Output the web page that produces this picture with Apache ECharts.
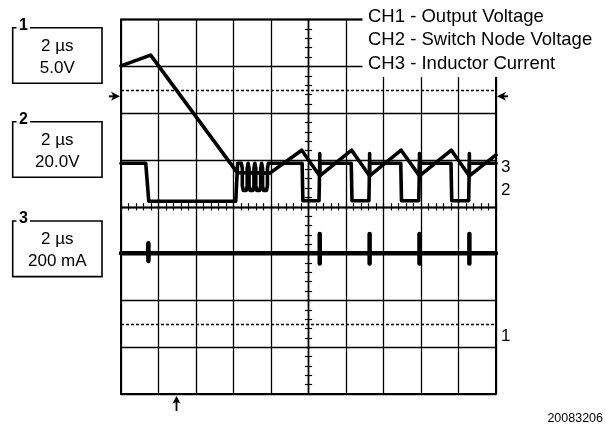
<!DOCTYPE html>
<html>
<head>
<meta charset="utf-8">
<script src="https://cdn.jsdelivr.net/npm/echarts@6/dist/echarts.min.js"></script>
<style>
html,body{margin:0;padding:0;background:#fff;}
#c{width:606px;height:435px;}
</style>
</head>
<body>
<div id="c"></div>
<script>
// ---- data (divisions: x 0..10, y 0..8) ----
const legendLabels = ['CH1 - Output Voltage', 'CH2 - Switch Node Voltage', 'CH3 - Inductor Current'];
const boxChannel = ['1', '2', '3'];
const boxTime = ['2 \u00b5s', '2 \u00b5s', '2 \u00b5s'];
const boxScale = ['5.0V', '20.0V', '200 mA'];
const refMarkLabels = ['3', '2', '1'];
const refMarkLevels = [4.84, 4.36, 1.24];
const dashedLevels = [6.5, 1.5];
const triggerLevel = 6.36;
const triggerTime = 1.48;
const figureId = '20083206';

// CH1 output voltage (flat with switching spikes)
const ch1Out = [
  [0, 3.01], [0.72, 3.01], [0.73, 3.22], [0.73, 2.84], [0.74, 3.01],
  [5.30, 3.01], [5.30, 3.42], [5.30, 2.79], [5.30, 3.01],
  [6.63, 3.01], [6.63, 3.42], [6.63, 2.79], [6.63, 3.01],
  [7.96, 3.01], [7.96, 3.42], [7.96, 2.79], [7.96, 3.01],
  [9.29, 3.01], [9.29, 3.42], [9.29, 2.79], [9.29, 3.01],
  [10, 3.01]
];

// CH2 switch node voltage (with ringing after 3.1 div)
const ch2Sw = [
  [0, 4.93], [0.66, 4.93], [0.74, 4.12], [3.06, 4.12], [3.11, 4.93],
  [3.21, 4.93], [3.235, 4.82], [3.235, 4.45], [3.26, 4.35], [3.30, 4.33], [3.34, 4.35], [3.365, 4.45], [3.365, 4.82],
  [3.39, 4.93], [3.415, 4.82], [3.415, 4.45], [3.44, 4.35], [3.48, 4.33], [3.52, 4.35], [3.545, 4.45], [3.545, 4.82],
  [3.57, 4.93], [3.595, 4.82], [3.595, 4.45], [3.62, 4.35], [3.66, 4.33], [3.70, 4.35], [3.725, 4.45], [3.725, 4.82],
  [3.75, 4.93], [3.775, 4.82], [3.775, 4.45], [3.80, 4.35], [3.84, 4.33], [3.88, 4.35], [3.905, 4.45], [3.905, 4.82],
  [3.93, 4.93],
  [4.83, 4.93], [4.85, 4.13], [5.28, 4.13], [5.30, 4.93],
  [6.14, 4.93], [6.16, 4.13], [6.61, 4.13], [6.63, 4.93],
  [7.46, 4.93], [7.48, 4.13], [7.94, 4.13], [7.96, 4.93],
  [8.80, 4.93], [8.82, 4.13], [9.27, 4.13], [9.29, 4.93],
  [10, 4.93]
];

// CH3 inductor current
const ch3Il = [
  [0, 7.01], [0.79, 7.24], [3.10, 4.73], [3.97, 4.72],
  [4.82, 5.21], [5.30, 4.66], [5.30, 5.14], [5.30, 4.66],
  [6.15, 5.21], [6.63, 4.66], [6.63, 5.14], [6.63, 4.66],
  [7.47, 5.21], [7.96, 4.66], [7.96, 5.14], [7.96, 4.66],
  [8.81, 5.21], [9.29, 4.66], [9.29, 5.14], [9.29, 4.66],
  [10, 5.11]
];

// ---- chart ----
const FONT = '"Liberation Sans", Arial, Helvetica, sans-serif';
const chart = echarts.init(document.getElementById('c'), null, {renderer: 'canvas'});

const baseAxisX = {type: 'value', min: 0, max: 10, interval: 1, gridIndex: 0};
const baseAxisY = {type: 'value', min: 0, max: 8, interval: 1, gridIndex: 0};
const hidden = {axisLabel: {show: false}, axisTick: {show: false}, axisLine: {show: false}, splitLine: {show: false}};

function centerAxis(base, pos, offset, inside) {
  return Object.assign({}, base, {
    position: pos, offset: offset,
    axisLine: {show: true, onZero: false, lineStyle: {color: '#000', width: 1.3}},
    axisTick: {show: true, inside: inside, length: 3.6, lineStyle: {color: '#000', width: 1.2}},
    minorTick: {show: true, splitNumber: 5, length: 3.6, lineStyle: {color: '#000', width: 1.2}},
    axisLabel: {show: false},
    splitLine: {show: false}
  });
}

const option = {
  animation: false,
  backgroundColor: '#fff',
  grid: {left: 121, right: 110, top: 19.6, bottom: 41, show: true, borderColor: '#000', borderWidth: 2, backgroundColor: 'transparent'},
  xAxis: [
    Object.assign({}, baseAxisX, hidden, {splitLine: {show: true, lineStyle: {color: '#000', width: 1.3}}}),
    centerAxis(baseAxisX, 'bottom', -187.2, false),
    centerAxis(baseAxisX, 'bottom', -187.2, true)
  ],
  yAxis: [
    Object.assign({}, baseAxisY, hidden, {splitLine: {show: true, lineStyle: {color: '#000', width: 1.3}}}),
    centerAxis(baseAxisY, 'left', -187.5, false),
    centerAxis(baseAxisY, 'left', -187.5, true)
  ],
  series: [
    {
      name: legendLabels[0], type: 'line', data: ch1Out, symbol: 'none', z: 5,
      lineStyle: {color: '#000', width: 4.5, join: 'round', cap: 'round'},
      markLine: {
        silent: true, symbol: ['none', 'none'], label: {show: false},
        lineStyle: {color: '#000', width: 1.4, type: [3, 2]},
        data: dashedLevels.map(v => ({yAxis: v}))
      }
    },
    {
      name: legendLabels[1], type: 'line', data: ch2Sw, symbol: 'none', z: 5,
      lineStyle: {color: '#000', width: 3.6, join: 'round', cap: 'round'}
    },
    {
      name: legendLabels[2], type: 'line', data: ch3Il, symbol: 'none', z: 6,
      lineStyle: {color: '#000', width: 3.6, join: 'round', cap: 'round'}
    }
  ]
};
chart.setOption(option);

// ---- annotations ----
const g = [];
const boxTops = [27.7, 121.7, 221];
const boxH = 55.6, boxL = 12.7, boxR = 102;
boxTops.forEach((t, i) => {
  g.push({type: 'polyline', z: 50, shape: {points: [[16.5, t], [boxL, t], [boxL, t + boxH], [boxR, t + boxH], [boxR, t], [30, t]]},
    style: {stroke: '#000', lineWidth: 1.6, fill: null}});
  g.push({type: 'text', z: 51, x: 23.5, y: t - 2, style: {text: boxChannel[i], font: 'bold 16px ' + FONT, fill: '#000', align: 'center', verticalAlign: 'middle'}});
  g.push({type: 'text', z: 51, x: 57.3, y: t + 18.6, style: {text: boxTime[i], font: '17px ' + FONT, fill: '#000', align: 'center', verticalAlign: 'middle'}});
  g.push({type: 'text', z: 51, x: 57.3, y: t + 40.8, style: {text: boxScale[i], font: '17px ' + FONT, fill: '#000', align: 'center', verticalAlign: 'middle'}});
});

// legend block (white panel over grid corner)
g.push({type: 'rect', z: 40, shape: {x: 362.5, y: 0, width: 244, height: 77}, style: {fill: '#fff'}});
legendLabels.forEach((s, i) => {
  g.push({type: 'text', z: 41, x: 368, y: 16.7 + i * 23.4, style: {text: s, font: '18.5px ' + FONT, fill: '#000', align: 'left', verticalAlign: 'middle'}});
});

// right reference markers
refMarkLabels.forEach((s, i) => {
  const p = chart.convertToPixel({gridIndex: 0}, [10, refMarkLevels[i]]);
  g.push({type: 'text', z: 41, x: p[0] + 5, y: p[1], style: {text: s, font: '17px ' + FONT, fill: '#000', align: 'left', verticalAlign: 'middle'}});
});

// trigger arrows
const pl = chart.convertToPixel({gridIndex: 0}, [0, triggerLevel]);
const pr = chart.convertToPixel({gridIndex: 0}, [10, triggerLevel]);
const pb = chart.convertToPixel({gridIndex: 0}, [triggerTime, 0]);
g.push({type: 'polygon', z: 41, shape: {points: [[pl[0] - 1, pl[1]], [pl[0] - 10, pl[1] - 4.5], [pl[0] - 7.5, pl[1]], [pl[0] - 10, pl[1] + 4.5]]}, style: {fill: '#000'}});
g.push({type: 'line', z: 41, shape: {x1: pl[0] - 12, y1: pl[1], x2: pl[0] - 6, y2: pl[1]}, style: {stroke: '#000', lineWidth: 2}});
g.push({type: 'polygon', z: 41, shape: {points: [[pr[0] + 1, pr[1]], [pr[0] + 10, pr[1] - 4.5], [pr[0] + 7.5, pr[1]], [pr[0] + 10, pr[1] + 4.5]]}, style: {fill: '#000'}});
g.push({type: 'line', z: 41, shape: {x1: pr[0] + 6, y1: pr[1], x2: pr[0] + 12, y2: pr[1]}, style: {stroke: '#000', lineWidth: 2}});
g.push({type: 'polygon', z: 41, shape: {points: [[pb[0], pb[1] + 2], [pb[0] - 4, pb[1] + 9.5], [pb[0], pb[1] + 8], [pb[0] + 4, pb[1] + 9.5]]}, style: {fill: '#000'}});
g.push({type: 'line', z: 41, shape: {x1: pb[0], y1: pb[1] + 7, x2: pb[0], y2: pb[1] + 17}, style: {stroke: '#000', lineWidth: 1.8}});

// figure id
g.push({type: 'text', z: 41, x: 603, y: 419, style: {text: figureId, font: '12.5px ' + FONT, fill: '#000', align: 'right', verticalAlign: 'middle'}});

chart.setOption({graphic: {elements: g}});
</script>
</body>
</html>
